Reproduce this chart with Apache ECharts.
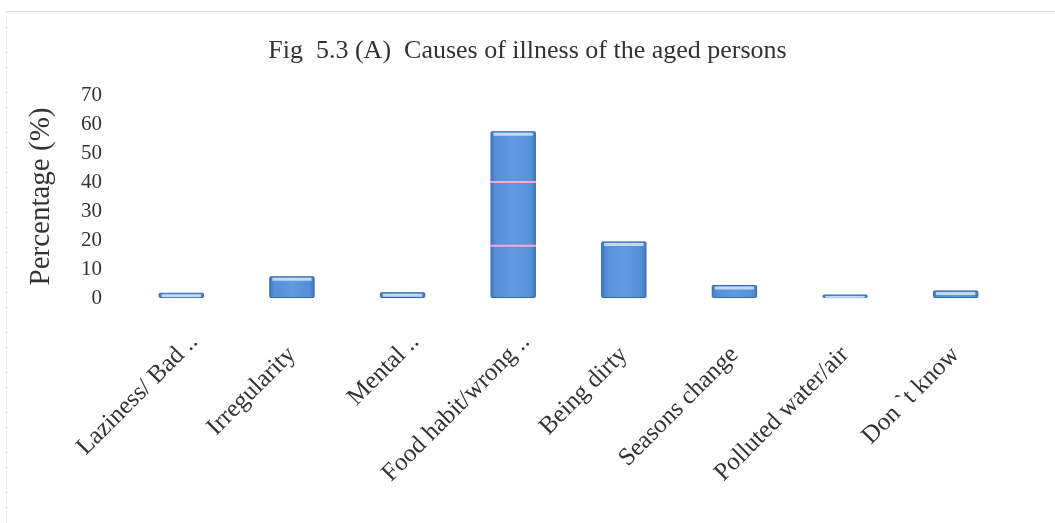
<!DOCTYPE html>
<html>
<head>
<meta charset="utf-8">
<script src="https://cdn.jsdelivr.net/npm/echarts@6/dist/echarts.min.js"></script>
<style>
  html, body { margin: 0; padding: 0; background: #fff; }
  #frame { position: absolute; left: 6px; top: 11px; width: 1049px; height: 512px;
           border-top: 1px solid #e4dcdc; border-left: 1px dashed #e2e2e2; }
  #chart { position: absolute; left: 0; top: 0; width: 1055px; height: 523px; }
</style>
</head>
<body>
<div id="frame"></div>
<div id="chart"></div>
<script>
// Causes of illness reported by the aged respondents (%)
const causes = [
  'Laziness/ Bad ..', 'Irregularity', 'Mental ..', 'Food habit/wrong ..',
  'Being dirty', 'Seasons change', 'Polluted water/air', 'Don `t know'
];
const percentages = [1.8, 7.5, 2.0, 57.5, 19.5, 4.5, 1.2, 2.6];
const yTicks = [0, 10, 20, 30, 40, 50, 60, 70];
// thin pink divider lines seen inside the tallest bar
const dividerLines = [[3, 40], [3, 18]];

const serif = '"Liberation Serif", "Times New Roman", serif';

// truncated names (ending in "..") let their dots run past the tick point
const categoryData = causes.map(name => name.endsWith('..')
  ? { value: name, textStyle: { padding: [0, -18, 0, 0] } }
  : name);

const chart = echarts.init(document.getElementById('chart'), null, { renderer: 'canvas' });

chart.setOption({
  backgroundColor: 'transparent',
  animation: false,
  title: {
    text: 'Fig  5.3 (A)  Causes of illness of the aged persons',
    left: 'center',
    top: 33,
    textStyle: { fontFamily: serif, fontWeight: 'normal', fontSize: 26, color: '#383030' }
  },
  grid: { left: 126, right: 44, top: 95, bottom: 225 },
  xAxis: {
    type: 'category',
    data: categoryData,
    axisLine: { show: false },
    axisTick: { show: false },
    axisLabel: {
      rotate: 45,
      interval: 0,
      margin: 53,
      fontFamily: serif,
      fontSize: 25,
      color: '#333'
    }
  },
  yAxis: {
    type: 'value',
    min: 0,
    max: 70,
    interval: 10,
    name: 'Percentage (%)',
    nameLocation: 'middle',
    nameGap: 70,
    nameTextStyle: { fontFamily: serif, fontSize: 29, color: '#333' },
    axisLine: { show: false },
    axisTick: { show: false },
    splitLine: { show: false },
    axisLabel: {
      margin: 24,
      fontFamily: serif,
      fontSize: 21,
      color: '#333',
      formatter: v => yTicks.includes(v) ? String(v) : ''
    }
  },
  series: [
    {
      type: 'bar',
      data: percentages,
      barWidth: '41%',
      itemStyle: {
        color: new echarts.graphic.LinearGradient(0, 0, 1, 0, [
          { offset: 0, color: '#3f78c0' },
          { offset: 0.12, color: '#5690d8' },
          { offset: 0.5, color: '#6399df' },
          { offset: 0.88, color: '#5690d8' },
          { offset: 1, color: '#3f78c0' }
        ]),
        borderColor: '#3a66a0',
        borderWidth: 1,
        borderRadius: 1
      }
    },
    {
      // light rim on the top edge of each bar
      type: 'custom',
      data: percentages.map((v, i) => [i, v]),
      silent: true,
      z: 3,
      renderItem: (params, api) => {
        const p = api.coord([api.value(0), api.value(1)]);
        const w = api.size([1, 0])[0] * 0.41;
        return {
          type: 'rect',
          shape: { x: p[0] - w / 2 + 3, y: p[1] + 1.5, width: w - 6, height: 3 },
          style: { fill: 'rgba(215,238,255,0.8)' }
        };
      }
    },
    {
      type: 'custom',
      data: dividerLines,
      silent: true,
      z: 4,
      renderItem: (params, api) => {
        const p = api.coord([api.value(0), api.value(1)]);
        const w = api.size([1, 0])[0] * 0.41;
        return {
          type: 'line',
          shape: { x1: p[0] - w / 2, y1: p[1], x2: p[0] + w / 2, y2: p[1] },
          style: { stroke: '#f4a8d8', lineWidth: 2 }
        };
      }
    }
  ]
});
</script>
</body>
</html>
